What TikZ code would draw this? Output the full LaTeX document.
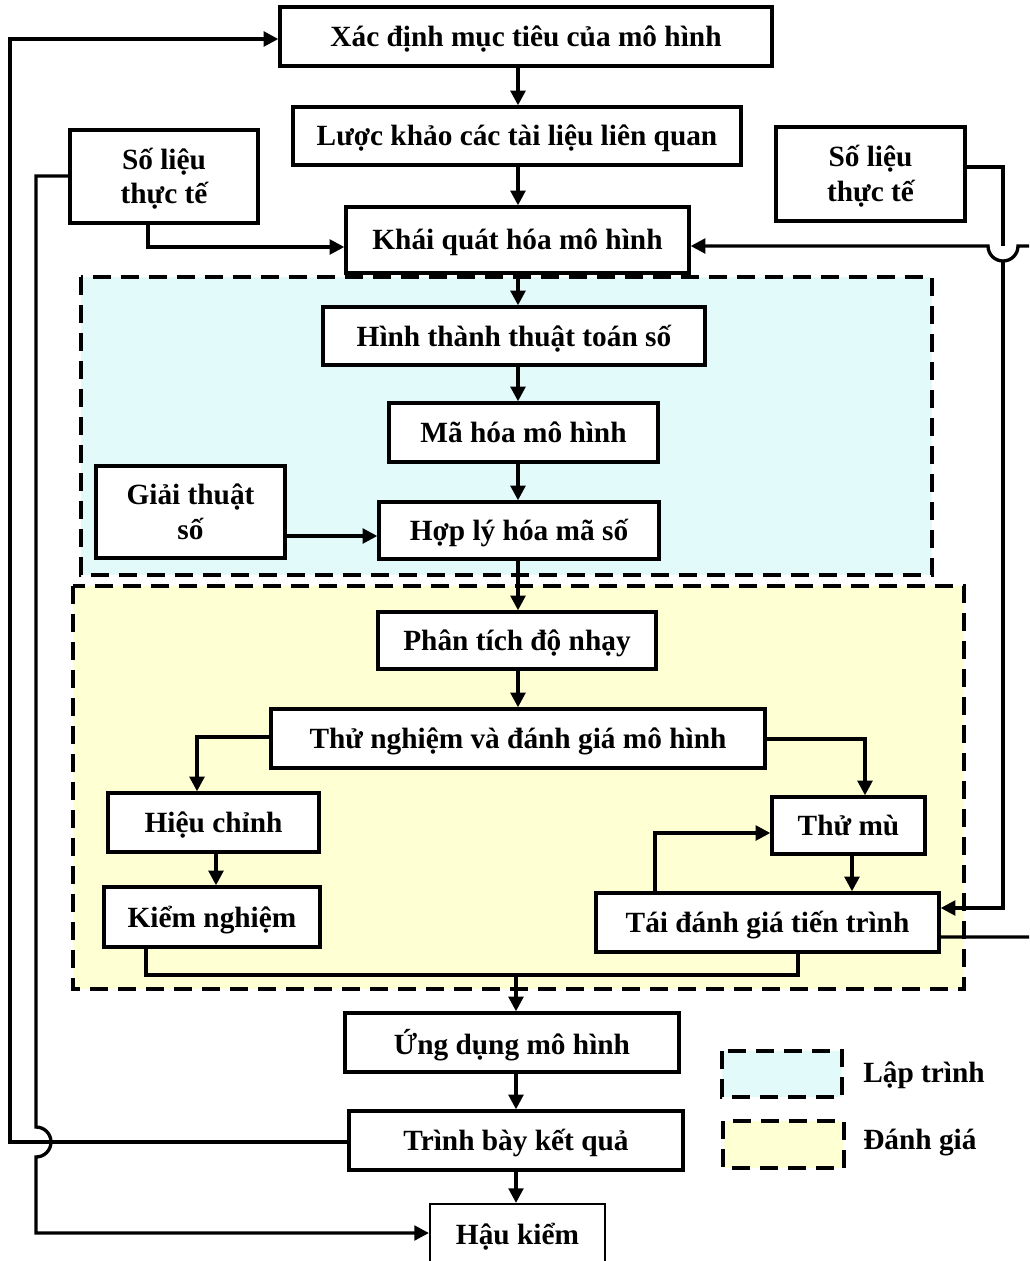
\documentclass[tikz,border=0pt]{standalone}
\usepackage{fontspec}
\setmainfont{Liberation Serif}
\usetikzlibrary{arrows.meta,calc}
\definecolor{lapfill}{RGB}{226,250,250}
\definecolor{danhfill}{RGB}{255,255,212}

% box placed by its corners: [options]{name}{x1}{y1}{x2}{y2}{text}
\newcommand\flowbox[7][]{%
  \node[box,#1,minimum width={(#5-#3)*0.75pt},minimum height={(#6-#4)*0.75pt}]
    (#2) at ({(#3+#5)/2},{(#4+#6)/2}) {#7};}

\begin{document}
\begin{tikzpicture}[x=0.75pt,y=-0.75pt,
  box/.style={draw,line width=2.5pt,fill=white,inner sep=0pt,align=center,
    text depth=1pt,font=\fontsize{22}{26}\selectfont\bfseries},
  link/.style={line width=2.5pt},
  arr/.style={link,-{Triangle[length=11pt,width=11pt]}},
  region/.style={line width=2.5pt,dash pattern=on 13.5pt off 7.5pt},
  legendtext/.style={anchor=west,inner sep=0pt,font=\fontsize{22}{26}\selectfont\bfseries}]

\useasboundingbox (0,0) rectangle (1029,1261);
\clip (0,0) rectangle (1029,1261);

% shaded groups
\draw[region,fill=lapfill] (81,277) rectangle (932,575);
\draw[region,fill=danhfill] (73,586) rectangle (964,989);

% boxes
\flowbox{goal}{280}{7}{772}{66}{Xác định mục tiêu của mô hình}
\flowbox{review}{293}{107}{741}{165}{Lược khảo các tài liệu liên quan}
\flowbox{dataL}{70}{130}{258}{223}{Số liệu\\thực tế}
\flowbox{dataR}{776}{127}{965}{221}{Số liệu\\thực tế}
\flowbox{general}{346}{207}{689}{273}{Khái quát hóa mô hình}
\flowbox{algoform}{323}{307}{705}{365}{Hình thành thuật toán số}
\flowbox{encode}{389}{403}{658}{462}{Mã hóa mô hình}
\flowbox{solver}{96}{466}{285}{558}{Giải thuật\\số}
\flowbox{rational}{379}{502}{659}{559}{Hợp lý hóa mã số}
\flowbox{sens}{378}{612}{656}{669}{Phân tích độ nhạy}
\flowbox{test}{271}{709}{765}{768}{Thử nghiệm và đánh giá mô hình}
\flowbox{calib}{108}{793}{319}{852}{Hiệu chỉnh}
\flowbox{verify}{104}{887}{320}{947}{Kiểm nghiệm}
\flowbox{blind}{772}{797}{925}{854}{Thử mù}
\flowbox{reassess}{596}{893}{939}{952}{Tái đánh giá tiến trình}
\flowbox{apply}{345}{1013}{679}{1072}{Ứng dụng mô hình}
\flowbox{present}{349}{1111}{683}{1170}{Trình bày kết quả}
\flowbox[line width=1.6pt]{post}{430}{1204}{605}{1264}{Hậu kiểm}

% helper coordinates
\coordinate (spine) at (518,0);
\coordinate (spineB) at (516,0);
\coordinate (merge) at (516,975);
\coordinate (loopL) at (10,0);
\coordinate (busL) at (36,0);
\coordinate (busR) at (1003,0);
\coordinate (outR) at (1045,0);

% main chain
\draw[arr] (goal.south -| spine) -- (review.north -| spine);
\draw[arr] (review.south -| spine) -- (general.north -| spine);
\draw[arr] (general.south -| spine) -- (algoform.north -| spine);
\draw[arr] (algoform.south -| spine) -- (encode.north -| spine);
\draw[arr] (encode.south -| spine) -- (rational.north -| spine);
\draw[arr] (rational.south -| spine) -- (sens.north -| spine);
\draw[arr] (sens.south -| spine) -- (test.north -| spine);
\draw[arr] (merge) -- (apply.north -| merge);
\draw[arr] (apply.south -| spineB) -- (present.north -| spineB);
\draw[arr] (present.south -| spineB) -- (post.north -| spineB);

% side inputs
\draw[arr] (solver.east |- 0,536) -- (rational.west |- 0,536);
\draw[arr] (dataL.south -| 148,0) |- (general.west |- 0,247);

% evaluation branches
\draw[arr] (test.west |- 0,737) -| (calib.north -| 197,0);
\draw[arr] (test.east |- 0,739) -| (blind.north -| 865,0);
\draw[arr] (calib.south -| 216,0) -- (verify.north -| 216,0);
\draw[arr] (blind.south -| 852,0) -- (reassess.north -| 852,0);
\draw[arr] (reassess.north -| 655,0) |- (blind.west |- 0,833);
\draw[link] (verify.south -| 146,0) |- (merge) -| (reassess.south -| 798,0);

% outer loop back to the objective
\draw[arr] (present.west |- 0,1142) -| (loopL |- 0,39) -- (goal.west |- 0,39);

% left field data to post-audit, jumping over the loop line
\draw[arr] (dataL.west |- 0,176) -| ($(busL |- 0,1142)+(0,-15)$)
  arc[start angle=90,end angle=-90,radius=11.25pt] |- (post.west |- 0,1233);

% right field data to reassessment
\draw[arr] (dataR.east |- 0,167) -| (busR |- 0,246)
  (busR |- 0,261) |- (reassess.east |- 0,908);

% feedback from reassessment to generalisation, jumping under the data line
\draw[arr] (reassess.east |- 0,937) -| (outR |- 0,246)
  -- ($(busR |- 0,246)+(15,0)$) arc[start angle=0,end angle=-180,radius=11.25pt]
  -- (general.east |- 0,246);

% legend
\draw[region,fill=lapfill] (722,1051) rectangle (842,1097);
\draw[region,fill=danhfill] (723,1121) rectangle (844,1168);
\node[legendtext] (legLap) at (863,1075) {Lập trình};
\node[legendtext] (legDanh) at (863,1143) {Đánh giá};
\end{tikzpicture}
\end{document}
